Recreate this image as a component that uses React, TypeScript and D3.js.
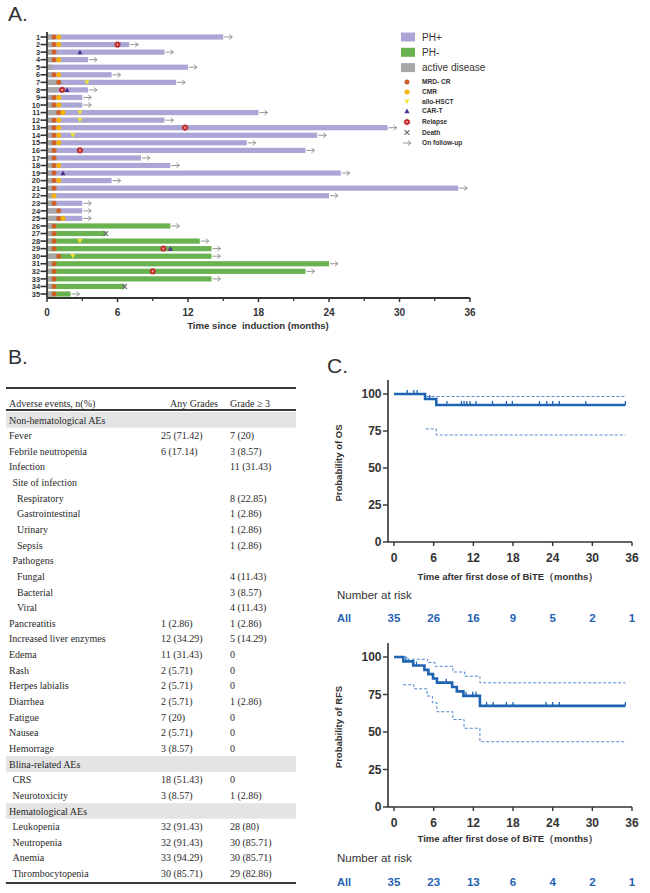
import React, { useEffect } from 'react';
import * as d3 from 'd3';

// ---- panel A: swimmer data (months since induction) ----
const followUp = [15, 7, 10, 3.5, 12, 5.5, 11, 3.5, 3, 3, 18, 10, 29, 23, 17, 22, 8, 10.5, 25, 5.5, 35, 24, 3, 3, 3, 10.5, 5, 13, 14, 14, 24, 22, 14, 6.6, 2];
const phStatus = ['+', '+', '+', '+', '+', '+', '+', '+', '+', '+', '+', '+', '+', '+', '+', '+', '+', '+', '+', '+', '+', '+', '+', '+', '+', '-', '-', '-', '-', '-', '-', '-', '-', '-', '-'];
const activeDisease = [0.45, 0.45, 0.45, 0.45, 0.45, 0.45, 0.9, 0.9, 0.45, 0.45, 0.9, 0.45, 0.45, 0.45, 0.45, 0.45, 0.45, 0.45, 0.45, 0.45, 0.45, 0.45, 0.45, 0.9, 0.9, 0.45, 0.45, 0.45, 0.45, 0.9, 0.45, 0.45, 0.45, 0.45, 0.45];
const mrdCR: [number, number][] = [[1, 0.6], [2, 0.6], [3, 0.6], [4, 0.6], [6, 0.6], [7, 1.0], [9, 0.6], [10, 0.6], [11, 1.0], [12, 0.6], [13, 0.6], [14, 0.6], [15, 0.6], [16, 0.6], [17, 0.6], [18, 0.6], [19, 0.6], [20, 0.6], [21, 0.6], [23, 0.6], [24, 1.0], [25, 1.0], [26, 0.6], [27, 0.6], [28, 0.6], [29, 0.6], [30, 1.0], [31, 0.6], [32, 0.6], [33, 0.6], [34, 0.6], [35, 0.6]];
const cmr: [number, number][] = [[1, 1.0], [2, 1.0], [4, 1.0], [6, 1.0], [9, 1.0], [10, 1.0], [11, 1.36], [12, 1.0], [13, 1.0], [14, 1.0], [15, 1.0], [18, 1.0], [20, 1.0], [22, 0.6], [25, 1.36]];
const alloHSCT: [number, number][] = [[7, 3.4], [11, 2.8], [12, 2.8], [14, 2.2], [28, 2.8], [30, 2.2]];
const carT: [number, number][] = [[3, 2.8], [8, 1.7], [19, 1.36], [29, 10.5]];
const relapse: [number, number][] = [[2, 6.0], [8, 1.28], [13, 11.75], [16, 2.8], [29, 9.9], [32, 9.0]];
const deaths = [27, 34];
const swimTicks = [0, 6, 12, 18, 24, 30, 36];
const swimMinor = [3, 9, 15, 21, 27, 33];

// ---- panel B: adverse events table ----
type Row = { label: string; level?: number; any?: string; g3?: string; band?: boolean };
const aeRows: Row[] = [
  { label: 'Non-hematological AEs', band: true },
  { label: 'Fever', any: '25 (71.42)', g3: '7 (20)' },
  { label: 'Febrile neutropenia', any: '6 (17.14)', g3: '3 (8.57)' },
  { label: 'Infection', g3: '11 (31.43)' },
  { label: 'Site of infection', level: 1 },
  { label: 'Respiratory', level: 2, g3: '8 (22.85)' },
  { label: 'Gastrointestinal', level: 2, g3: '1 (2.86)' },
  { label: 'Urinary', level: 2, g3: '1 (2.86)' },
  { label: 'Sepsis', level: 2, g3: '1 (2.86)' },
  { label: 'Pathogens', level: 1 },
  { label: 'Fungal', level: 2, g3: '4 (11.43)' },
  { label: 'Bacterial', level: 2, g3: '3 (8.57)' },
  { label: 'Viral', level: 2, g3: '4 (11.43)' },
  { label: 'Pancreatitis', any: '1 (2.86)', g3: '1 (2.86)' },
  { label: 'Increased liver enzymes', any: '12 (34.29)', g3: '5 (14.29)' },
  { label: 'Edema', any: '11 (31.43)', g3: '0' },
  { label: 'Rash', any: '2 (5.71)', g3: '0' },
  { label: 'Herpes labialis', any: '2 (5.71)', g3: '0' },
  { label: 'Diarrhea', any: '2 (5.71)', g3: '1 (2.86)' },
  { label: 'Fatigue', any: '7 (20)', g3: '0' },
  { label: 'Nausea', any: '2 (5.71)', g3: '0' },
  { label: 'Hemorrage', any: '3 (8.57)', g3: '0' },
  { label: 'Blina-related AEs', band: true },
  { label: 'CRS', level: 1, any: '18 (51.43)', g3: '0' },
  { label: 'Neurotoxicity', level: 1, any: '3 (8.57)', g3: '1 (2.86)' },
  { label: 'Hematological AEs', band: true },
  { label: 'Leukopenia', level: 1, any: '32 (91.43)', g3: '28 (80)' },
  { label: 'Neutropenia', level: 1, any: '32 (91.43)', g3: '30 (85.71)' },
  { label: 'Anemia', level: 1, any: '33 (94.29)', g3: '30 (85.71)' },
  { label: 'Thrombocytopenia', level: 1, any: '30 (85.71)', g3: '29 (82.86)' },
];

// ---- panel C: Kaplan-Meier ----
const kmTicks = [0, 6, 12, 18, 24, 30, 36];
const probTicks = [0, 25, 50, 75, 100];
const osSteps: [number, number][] = [[0, 100], [4.7, 96.6], [6.4, 92.6]];
const osUpper: [number, number][] = [[0, 100], [4.7, 98.3]];
const osLower: [number, number][] = [[4.8, 76.4], [6.4, 72.3]];
const osCensor = [2.0, 3.0, 3.5, 5.4, 8.0, 10.2, 10.6, 11.0, 11.5, 12.4, 14.9, 17.0, 17.9, 22.0, 23.1, 24.0, 25.0, 29.0, 35.0];
const osAtRisk = [35, 26, 16, 9, 5, 2, 1];
const rfsSteps: [number, number][] = [[0, 100], [1.4, 97.1], [2.9, 94.3], [4.6, 91.4], [5.2, 88.6], [5.9, 85.7], [6.5, 82.9], [8.8, 80.0], [9.5, 77.1], [10.5, 74.1], [13.0, 67.4]];
const rfsUpper: [number, number][] = [[0, 100], [2.1, 98.5], [5.1, 96.3], [6.2, 93.8], [8.9, 90.0], [10.7, 87.2], [13.0, 82.8]];
const rfsLower: [number, number][] = [[1.4, 81.5], [3.0, 78.8], [5.0, 74.0], [5.8, 69.5], [6.5, 63.5], [8.9, 58.3], [10.6, 52.5], [13.0, 43.5]];
const rfsCensor = [1.8, 3.4, 7.9, 10.9, 11.9, 12.4, 14.0, 15.0, 17.0, 18.0, 23.0, 24.0, 25.0, 35.0];
const rfsAtRisk = [35, 23, 13, 6, 4, 2, 1];
const kmEnd = 35;

const SANS = '"Liberation Sans", Arial, sans-serif';
const SERIF = '"Liberation Serif", "Times New Roman", serif';
const AX = '#333';
const BLUE = '#1f63b3';
const PHP = '#aba6d6';
const PHN = '#6ab24f';
const GRAY = '#a7a8a7';
const C_MRD = '#cf5f28';
const C_CMR = '#f6b400';
const C_ALLO = '#f1e232';
const C_CART = '#4d2f8e';
const C_REL = '#c2282a';

function relapsePath(r: number) {
  const pts: [number, number][] = [];
  for (let i = 0; i < 20; i++) {
    const a = (i / 20) * Math.PI * 2;
    const rr = i % 2 === 0 ? r : r * 0.72;
    pts.push([Math.cos(a) * rr, Math.sin(a) * rr]);
  }
  return d3.line()(pts) + 'Z';
}

function Marker({ kind, x, y }: { kind: string; x: number; y: number }) {
  if (kind === 'mrd') return <circle cx={x} cy={y} r={2.5} fill={C_MRD} />;
  if (kind === 'cmr') return <circle cx={x} cy={y} r={2.5} fill={C_CMR} />;
  if (kind === 'allo') return <path d={`M${x - 2.6},${y - 2.2}L${x + 2.6},${y - 2.2}L${x},${y + 2.4}Z`} fill={C_ALLO} />;
  if (kind === 'cart') return <path d={`M${x - 2.6},${y + 2.2}L${x + 2.6},${y + 2.2}L${x},${y - 2.4}Z`} fill={C_CART} />;
  if (kind === 'rel')
    return (
      <g transform={`translate(${x},${y})`}>
        <path d={relapsePath(3.6)} fill={C_REL} />
        <circle r={1.1} fill="#f3a0a0" />
      </g>
    );
  if (kind === 'death')
    return (
      <g stroke="#6d6d6d" strokeWidth={1.2}>
        <line x1={x - 2.4} y1={y - 2.4} x2={x + 2.4} y2={y + 2.4} />
        <line x1={x - 2.4} y1={y + 2.4} x2={x + 2.4} y2={y - 2.4} />
      </g>
    );
  // follow-up arrow
  return (
    <g stroke="#8a8a8a" strokeWidth={0.9} fill="none">
      <line x1={x} y1={y} x2={x + 8} y2={y} />
      <polyline points={`${x + 5},${y - 2.4} ${x + 8},${y} ${x + 5},${y + 2.4}`} />
    </g>
  );
}

function Swimmer() {
  const rows = followUp.map((_, i) => i + 1);
  const x = d3.scaleLinear().domain([0, 36]).range([47, 470]);
  const y = d3.scalePoint<number>().domain(rows).range([37, 294]);
  const barH = 5.2;
  const axisY = 298;
  const ev: [string, [number, number][]][] = [
    ['mrd', mrdCR], ['cmr', cmr], ['allo', alloHSCT], ['cart', carT], ['rel', relapse],
  ];
  const legendBoxes = [
    { c: PHP, t: 'PH+' }, { c: PHN, t: 'PH-' }, { c: GRAY, t: 'active disease' },
  ];
  const legendSyms = [
    { k: 'mrd', t: 'MRD- CR' }, { k: 'cmr', t: 'CMR' }, { k: 'allo', t: 'allo-HSCT' }, { k: 'cart', t: 'CAR-T' },
    { k: 'rel', t: 'Relapse' }, { k: 'death', t: 'Death' }, { k: 'arrow', t: 'On follow-up' },
  ];
  const symY = [82, 92, 101.7, 111, 122, 132.5, 143];
  return (
    <g fontFamily={SANS}>
      <text x={8} y={21} fontSize={21} fill={AX}>A.</text>
      {rows.map((r, i) => {
        const yc = y(r)!;
        return (
          <g key={r}>
            <rect x={x(0)} y={yc - barH / 2} width={x(followUp[i]) - x(0)} height={barH} fill={phStatus[i] === '+' ? PHP : PHN} />
            <rect x={x(0)} y={yc - barH / 2} width={x(activeDisease[i]) - x(0)} height={barH} fill={GRAY} />
            {deaths.includes(r)
              ? <Marker kind="death" x={x(followUp[i])} y={yc} />
              : <Marker kind="arrow" x={x(followUp[i]) + 1} y={yc} />}
            <line x1={40.5} x2={47} y1={yc} y2={yc} stroke={AX} strokeWidth={1.6} />
            <text x={40} y={yc} dy="0.36em" textAnchor="end" fontSize={7.4} fontWeight="bold" fill={AX}>{r}</text>
          </g>
        );
      })}
      {ev.map(([k, list]) => list.map(([r, t], j) => <Marker key={k + j} kind={k} x={x(t)} y={y(r)!} />))}
      <line x1={47} x2={47} y1={32} y2={axisY} stroke={AX} strokeWidth={1.8} />
      <line x1={47} x2={470} y1={axisY} y2={axisY} stroke={AX} strokeWidth={1.8} />
      {swimTicks.map(t => (
        <g key={t}>
          <line x1={x(t)} x2={x(t)} y1={axisY} y2={axisY + 4} stroke={AX} strokeWidth={1.5} />
          <text x={x(t)} y={312} dy="0.35em" textAnchor="middle" fontSize={10} fontWeight="bold" fill={AX}>{t}</text>
        </g>
      ))}
      {swimMinor.map(t => <line key={t} x1={x(t)} x2={x(t)} y1={axisY} y2={axisY + 3} stroke={AX} strokeWidth={1.3} />)}
      <text x={258} y={326} dy="0.35em" textAnchor="middle" fontSize={9.6} fontWeight="bold" fill={AX} style={{ whiteSpace: 'pre' }}>{'Time since  induction (months)'}</text>
      {legendBoxes.map((b, i) => (
        <g key={b.t}>
          <rect x={401} y={32.5 + i * 15.3} width={14} height={9} fill={b.c} />
          <text x={422} y={37 + i * 15.3} dy="0.35em" fontSize={10} fill={AX}>{b.t}</text>
        </g>
      ))}
      {legendSyms.map((s, i) => (
        <g key={s.t}>
          <Marker kind={s.k} x={s.k === 'arrow' ? 403 : 407} y={symY[i]} />
          <text x={422} y={symY[i]} dy="0.35em" fontSize={6.6} fontWeight="bold" fill={AX}>{s.t}</text>
        </g>
      ))}
    </g>
  );
}

function AETable() {
  const top = 388;
  const head = 410;
  const step = 15.64;
  const first = 420;
  const x0 = 6, x1 = 296;
  const indent = [9, 12.5, 17];
  return (
    <g fontFamily={SERIF} fontSize={10} fill="#2a2a2a">
      <text x={8} y={364} fontSize={21} fontFamily={SANS} fill={AX}>B.</text>
      <line x1={x0} x2={x1} y1={top} y2={top} stroke="#3a3a3a" strokeWidth={2} />
      <text x={9} y={403} dy="0.35em">Adverse events, n(%)</text>
      <text x={218} y={403} dy="0.35em" textAnchor="end">Any Grades</text>
      <text x={230} y={403} dy="0.35em">Grade ≥ 3</text>
      <line x1={x0} x2={x1} y1={head} y2={head} stroke="#3a3a3a" strokeWidth={2} />
      {aeRows.map((r, i) => {
        const yc = first + i * step;
        return (
          <g key={r.label}>
            {r.band && <rect x={x0} y={yc - 7.9} width={x1 - x0} height={15.6} fill="#e4e4e4" />}
            <text x={indent[r.level ?? 0]} y={yc} dy="0.35em">{r.label}</text>
            {r.any && <text x={161} y={yc} dy="0.35em">{r.any}</text>}
            {r.g3 && <text x={230} y={yc} dy="0.35em">{r.g3}</text>}
          </g>
        );
      })}
      <line x1={x0} x2={x1} y1={883} y2={883} stroke="#3a3a3a" strokeWidth={2} />
    </g>
  );
}

function stepValue(steps: [number, number][], t: number) {
  let v = steps[0][1];
  for (const [s, val] of steps) if (s <= t) v = val;
  return v;
}

function KMPanel(props: {
  y0: number; y100: number; axisTop: number; ylab: string;
  steps: [number, number][]; upper: [number, number][]; lower: [number, number][];
  censor: number[]; atRisk: number[]; titleY: number; nrY: number; allY: number;
}) {
  const { y0, y100, axisTop, ylab, steps, upper, lower, censor, atRisk, titleY, nrY, allY } = props;
  const x = d3.scaleLinear().domain([0, 36]).range([394, 632]);
  const y = d3.scaleLinear().domain([0, 100]).range([y0, y100]);
  const line = d3.line<[number, number]>().x(d => x(d[0])).y(d => y(d[1])).curve(d3.curveStepAfter);
  const ext = (s: [number, number][]) => [...s, [kmEnd, s[s.length - 1][1]] as [number, number]];
  const axX = 388;
  return (
    <g fontFamily={SANS}>
      <path d={line(ext(upper))!} fill="none" stroke="#4f86cf" strokeWidth={1} strokeDasharray="3,2" />
      <path d={line(ext(lower))!} fill="none" stroke="#4f86cf" strokeWidth={1} strokeDasharray="3,2" />
      <path d={line(ext(steps))!} fill="none" stroke={BLUE} strokeWidth={2.6} />
      {censor.map(t => {
        const yy = y(stepValue(steps, t));
        return <line key={t} x1={x(t)} x2={x(t)} y1={yy - 4} y2={yy} stroke={BLUE} strokeWidth={1.3} />;
      })}
      <line x1={axX} x2={axX} y1={axisTop} y2={y0} stroke={AX} strokeWidth={1.6} />
      <line x1={axX} x2={632} y1={y0} y2={y0} stroke={AX} strokeWidth={1.6} />
      {probTicks.map(p => (
        <g key={p}>
          <line x1={axX - 5} x2={axX} y1={y(p)} y2={y(p)} stroke={AX} strokeWidth={1.4} />
          <text x={axX - 6.5} y={y(p)} dy="0.35em" textAnchor="end" fontSize={12} fontWeight="bold" fill={AX}>{p}</text>
        </g>
      ))}
      {kmTicks.map(t => (
        <g key={t}>
          <line x1={x(t)} x2={x(t)} y1={y0} y2={y0 + 4} stroke={AX} strokeWidth={1.4} />
          <text x={x(t)} y={y0 + 16} dy="0.35em" textAnchor="middle" fontSize={12} fontWeight="bold" fill={AX}>{t}</text>
        </g>
      ))}
      <text transform={`translate(339,${(y0 + axisTop) / 2 + 2}) rotate(-90)`} textAnchor="middle" dy="0.35em" fontSize={9.5} fontWeight="bold" fill={AX}>{ylab}</text>
      <text x={508} y={titleY} dy="0.35em" textAnchor="middle" fontSize={9.5} fontWeight="bold" fill={AX}>Time after first dose of BiTE（months）</text>
      <text x={337} y={nrY} dy="0.35em" fontSize={11.5} fill={AX}>Number at risk</text>
      <text x={337} y={allY} dy="0.35em" fontSize={11} fontWeight="bold" fill={BLUE}>All</text>
      {atRisk.map((n, i) => (
        <text key={i} x={x(kmTicks[i])} y={allY} dy="0.35em" textAnchor="middle" fontSize={11.5} fontWeight="bold" fill={BLUE}>{n}</text>
      ))}
    </g>
  );
}

export default function App() {
  useEffect(() => {
    document.body.style.margin = '0';
  }, []);
  return (
    <svg width={650} height={893} viewBox="0 0 650 893" style={{ display: 'block', background: '#fff' }}>
      <rect width={650} height={893} fill="#fff" />
      <Swimmer />
      <AETable />
      <text x={327} y={373} fontSize={21} fontFamily={SANS} fill={AX}>C.</text>
      <KMPanel y0={542} y100={394} axisTop={380} ylab="Probability of OS" steps={osSteps} upper={osUpper} lower={osLower}
        censor={osCensor} atRisk={osAtRisk} titleY={577} nrY={595} allY={618} />
      <KMPanel y0={807} y100={657} axisTop={643} ylab="Probability of RFS" steps={rfsSteps} upper={rfsUpper} lower={rfsLower}
        censor={rfsCensor} atRisk={rfsAtRisk} titleY={839} nrY={858} allY={882} />
    </svg>
  );
}
